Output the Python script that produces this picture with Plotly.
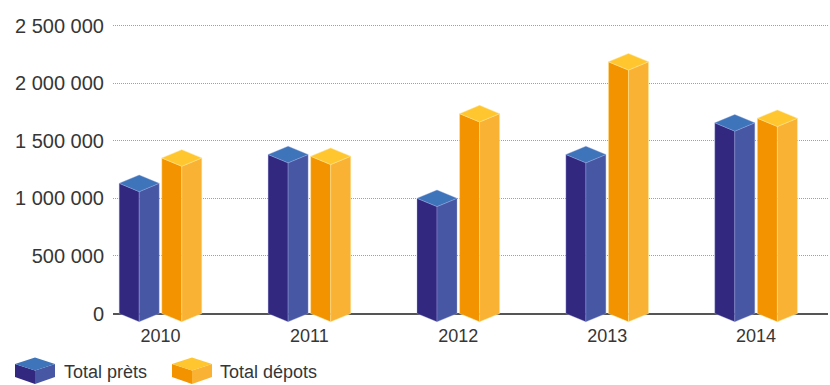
import plotly.graph_objects as go

# ---------------- data ----------------
years = ["2010", "2011", "2012", "2013", "2014"]
total_prets = [1130000, 1380000, 1000000, 1380000, 1655000]
total_depots = [1350000, 1365000, 1735000, 2185000, 1695000]
series_names = ["Total prèts", "Total dépots"]
y_tick_values = [0, 500000, 1000000, 1500000, 2000000, 2500000]
y_tick_labels = ["0", "500 000", "1 000 000", "1 500 000", "2 000 000", "2 500 000"]

# ---------------- style ----------------
W, H = 830, 385
M_L, M_R, M_T, M_B = 113, 2, 10, 59
Y_RANGE = [-108500, 2634600]
X_RANGE = [-0.319, 4.483]
plot_w = W - M_L - M_R
plot_h = H - M_T - M_B
units_per_px_y = (Y_RANGE[1] - Y_RANGE[0]) / plot_h
units_per_px_x = (X_RANGE[1] - X_RANGE[0]) / plot_w

HALF_W = 20 * units_per_px_x      # half width of a prism
DEPTH = 8.3 * units_per_px_y      # vertical offset of the diamond
OFFSET = 0.143                    # series offset from category centre

palettes = [
    {"left": "#33287f", "right": "#4857a3", "top": "#3e74ba", "edge": "rgba(160,170,230,0.6)"},
    {"left": "#f39300", "right": "#f9b233", "top": "#ffc630", "edge": "rgba(255,230,150,0.8)"},
]
FONT = "Liberation Sans, Arial, sans-serif"
TEXT_COLOR = "#363636"

fig = go.Figure()


def add_prism(cx, v, pal):
    faces = [
        ("left", [cx - HALF_W, cx, cx, cx - HALF_W, cx - HALF_W],
                 [0, -DEPTH, v - DEPTH, v, 0]),
        ("right", [cx, cx + HALF_W, cx + HALF_W, cx, cx],
                  [-DEPTH, 0, v, v - DEPTH, -DEPTH]),
        ("top", [cx - HALF_W, cx, cx + HALF_W, cx, cx - HALF_W],
                [v, v - DEPTH, v, v + DEPTH, v]),
    ]
    for name, xs, ys in faces:
        fig.add_trace(go.Scatter(
            x=xs, y=ys, mode="lines", fill="toself",
            fillcolor=pal[name], line=dict(color=pal["edge"], width=0.6),
            hoverinfo="skip", showlegend=False))


for i, yr in enumerate(years):
    for s, vals in enumerate([total_prets, total_depots]):
        cx = i + (-OFFSET if s == 0 else OFFSET)
        add_prism(cx, vals[i], palettes[s])

# ---------------- legend (custom cube icons) ----------------
def px_to_paper(px, py):
    return (px - M_L) / plot_w, (H - M_B - py) / plot_h


def poly_path(points):
    pts = [px_to_paper(x, y) for x, y in points]
    return "M " + " L ".join(f"{x:.5f},{y:.5f}" for x, y in pts) + " Z"


shapes = []
annotations = []
legend_x = [15, 172]
text_x = [62, 218]
for s, name in enumerate(series_names):
    x0 = legend_x[s]
    x1, x2 = x0 + 20, x0 + 40
    apex, corner, front, bcorner, bfront = 357.5, 364, 370.5, 377, 384
    pal = palettes[s]
    shapes.append(dict(type="path", xref="paper", yref="paper", line=dict(width=0),
                       fillcolor=pal["left"],
                       path=poly_path([(x0, corner), (x1, front), (x1, bfront), (x0, bcorner)])))
    shapes.append(dict(type="path", xref="paper", yref="paper", line=dict(width=0),
                       fillcolor=pal["right"],
                       path=poly_path([(x1, front), (x2, corner), (x2, bcorner), (x1, bfront)])))
    shapes.append(dict(type="path", xref="paper", yref="paper", line=dict(width=0),
                       fillcolor=pal["top"],
                       path=poly_path([(x0, corner), (x1, apex), (x2, corner), (x1, front)])))
    ax, ay = px_to_paper(text_x[s], 372)
    annotations.append(dict(x=ax, y=ay, xref="paper", yref="paper", text=name,
                            showarrow=False, xanchor="left", yanchor="middle",
                            font=dict(family=FONT, size=18, color=TEXT_COLOR)))

fig.update_layout(
    width=W, height=H,
    margin=dict(l=M_L, r=M_R, t=M_T, b=M_B, pad=0),
    paper_bgcolor="white", plot_bgcolor="white",
    showlegend=False,
    shapes=shapes, annotations=annotations,
    xaxis=dict(range=X_RANGE, tickvals=list(range(len(years))), ticktext=years,
               showgrid=False, zeroline=False, showline=False, ticks="",
               ticklabelstandoff=-3,
               tickfont=dict(family=FONT, size=18, color=TEXT_COLOR), fixedrange=True),
    yaxis=dict(range=Y_RANGE, tickvals=y_tick_values, ticktext=y_tick_labels,
               showgrid=True, gridcolor="#a0a0a0", griddash="1px,1px", gridwidth=1,
               zeroline=True, zerolinecolor="#555555", zerolinewidth=1.5,
               showline=False, ticks="", ticklabelstandoff=8,
               tickfont=dict(family=FONT, size=20, color=TEXT_COLOR), fixedrange=True),
)

fig.write_html("out.html")
